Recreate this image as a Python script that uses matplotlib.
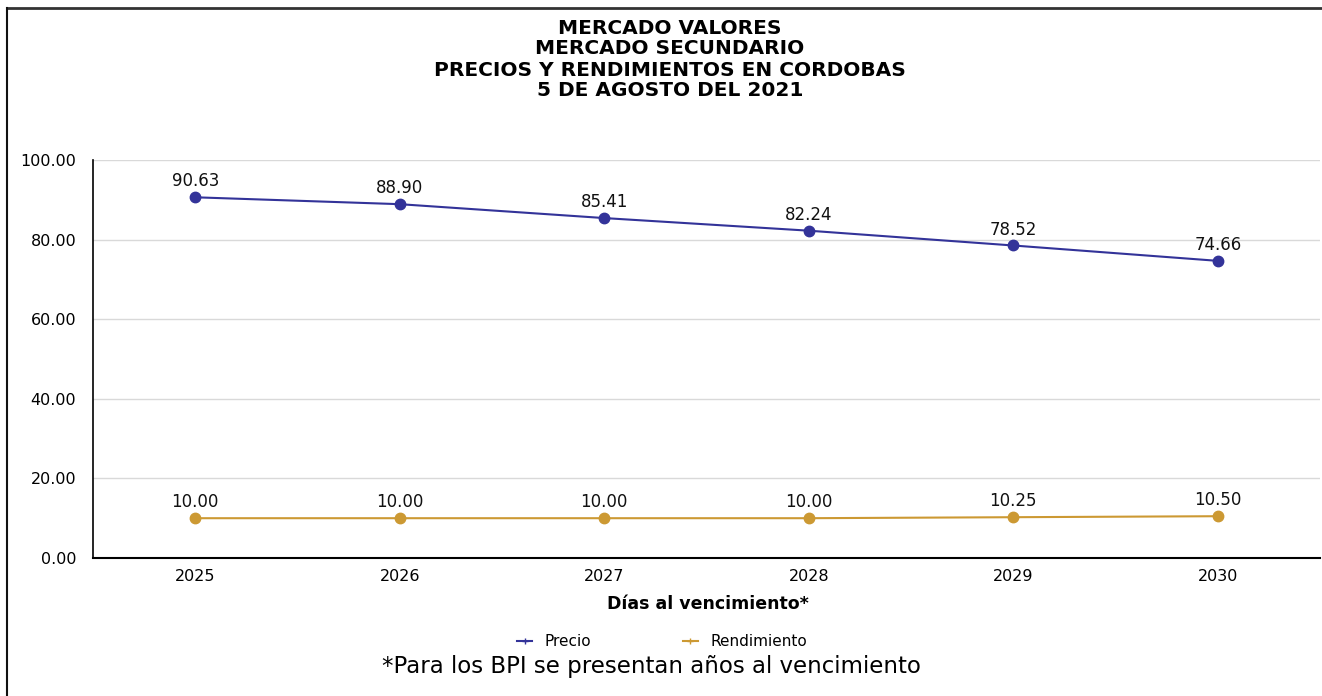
import matplotlib
matplotlib.use("Agg")
import matplotlib.pyplot as plt
from matplotlib.lines import Line2D

categories = ["2025", "2026", "2027", "2028", "2029", "2030"]
precio = [90.63, 88.90, 85.41, 82.24, 78.52, 74.66]
rendimiento = [10.00, 10.00, 10.00, 10.00, 10.25, 10.50]
yticks = [0, 20, 40, 60, 80, 100]

title_lines = ["MERCADO VALORES", "MERCADO SECUNDARIO",
               "PRECIOS Y RENDIMIENTOS EN CORDOBAS", "5 DE AGOSTO DEL 2021"]
xlabel = "Días al vencimiento*"
footnote = "*Para los BPI se presentan años al vencimiento"

blue = "#333399"
gold = "#CC9933"

W, H = 1322, 696
fig = plt.figure(figsize=(W / 100, H / 100), dpi=100)
plt.rcParams['font.family'] = ['DejaVu Sans']

ax = fig.add_axes([93 / W, 1 - 558 / H, (1320 - 93) / W, (558 - 160) / H])
x = list(range(len(categories)))
ax.plot(x, precio, color=blue, lw=1.5, marker="o", ms=7.5, zorder=3)
ax.plot(x, rendimiento, color=gold, lw=1.5, marker="o", ms=7.5, zorder=3)
for xi, v in zip(x, precio):
    ax.annotate(f"{v:.2f}", (xi, v), xytext=(0, 5), textcoords="offset points",
                ha="center", va="bottom", fontsize=12, color="#111111")
for xi, v in zip(x, rendimiento):
    ax.annotate(f"{v:.2f}", (xi, v), xytext=(0, 5), textcoords="offset points",
                ha="center", va="bottom", fontsize=12, color="#111111")

ax.set_xlim(-0.5, len(categories) - 0.5)
ax.set_ylim(0, 100)
ax.set_yticks(yticks)
ax.set_yticklabels([f"{v:.2f}" for v in yticks], fontsize=11.5)
ax.set_xticks(x)
ax.set_xticklabels(categories, fontsize=11.5)
ax.tick_params(axis="both", length=0, pad=8)
ax.tick_params(axis="y", pad=12)
ax.grid(axis="y", color="#d9d9d9", lw=1)
ax.set_axisbelow(True)
for s in ["top", "right"]:
    ax.spines[s].set_visible(False)
ax.spines["left"].set_color("#000000")
ax.spines["left"].set_linewidth(1.2)
ax.spines["bottom"].set_color("#000000")
ax.spines["bottom"].set_linewidth(1.5)

# title
for i, t in enumerate(title_lines):
    fig.text(670 / W, 1 - (28 + i * 21) / H, t, ha="center", va="center",
             fontsize=14.5, fontweight="bold")

fig.text(708 / W, 1 - 604 / H, xlabel, ha="center", va="center",
         fontsize=12.5, fontweight="bold")

handles = [Line2D([], [], color=blue, lw=1.5, marker="+", ms=4),
           Line2D([], [], color=gold, lw=1.5, marker="+", ms=4)]
fig.legend(handles, ["Precio", "Rendimiento"], loc="center",
           bbox_to_anchor=(662 / W, 1 - 642 / H), ncol=2, frameon=False,
           fontsize=11, handlelength=1.0, columnspacing=6.0, handletextpad=0.8)

fig.text(651 / W, 1 - 667 / H, footnote, ha="center", va="center", fontsize=16.5)

# frame lines (top and left)
fig.add_artist(Line2D([7 / W, 1], [1 - 8 / H, 1 - 8 / H], color="#333333", lw=2,
                      transform=fig.transFigure))
fig.add_artist(Line2D([7 / W, 7 / W], [0, 1 - 8 / H], color="#111111", lw=1.5,
                      transform=fig.transFigure))

fig.savefig("out.png", dpi=100, facecolor="white")
